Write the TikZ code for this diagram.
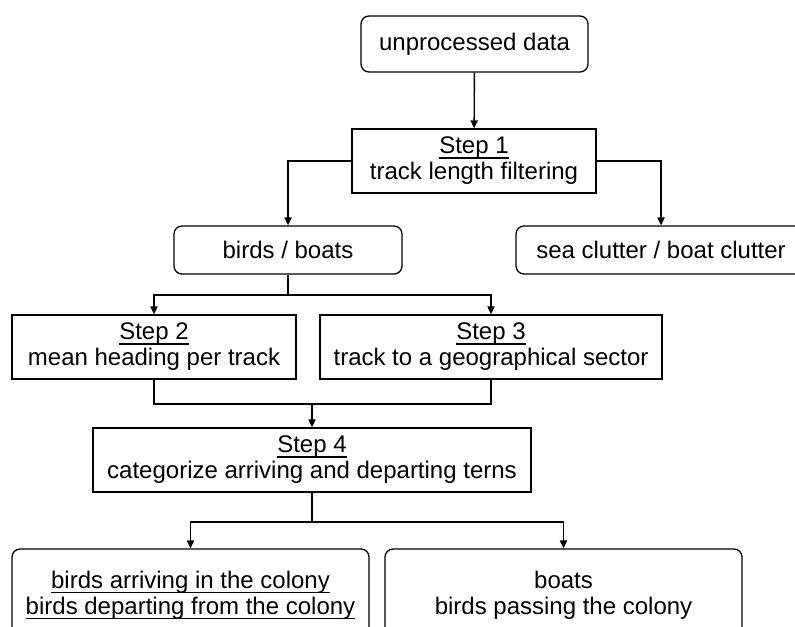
\documentclass[tikz,border=0pt]{standalone}
\usepackage{fontspec}
\setmainfont{Liberation Sans}
\usepackage{tikz}
\usetikzlibrary{arrows.meta,positioning}
\definecolor{inkblack}{HTML}{000000}
\newlength{\ulwidth}
\newcommand{\ul}[1]{\settowidth{\ulwidth}{#1}\rlap{\rule[-2.4pt]{\ulwidth}{0.7pt}}#1}

\begin{document}
\begin{tikzpicture}[
  x=0.5pt, y=-0.5pt,
  every node/.style={font=\fontsize{12}{13}\selectfont, align=center},
  box/.style={draw=inkblack, line width=0.65pt, inner sep=2pt},
  rbox/.style={box, rounded corners=4pt},
  stepbox/.style={box, minimum height=32pt},
  arr/.style={-{Triangle[length=4pt, width=3.6pt]}, line width=0.7pt, color=inkblack},
  ln/.style={line width=0.7pt, color=inkblack},
]
  \useasboundingbox (0,0) rectangle (795,626);

  \node[rbox, minimum width=113.5pt, minimum height=28pt] (raw) at (474.5,44) {unprocessed data};
  \node[stepbox, minimum width=122pt] (step1) at (474,161) {\ul{Step 1}\\track length filtering};
  \node[rbox, minimum width=114pt, minimum height=24pt] (birds) at (288,250) {birds / boats};
  \node[rbox, minimum width=145pt, minimum height=24pt] (clutter) at (661,250) {sea clutter / boat clutter};
  \node[stepbox, minimum width=142pt] (step2) at (154,347) {\ul{Step 2}\\mean heading per track};
  \node[stepbox, minimum width=171pt] (step3) at (491,347) {\ul{Step 3}\\track to a geographical sector};
  \node[stepbox, minimum width=219pt] (step4) at (312,460) {\ul{Step 4}\\categorize arriving and departing terns};
  \node[rbox, minimum width=178.5pt, minimum height=46pt] (colony) at (190.5,595)
    {\ul{birds arriving in the colony}\\\ul{birds departing from the colony}};
  \node[rbox, minimum width=178.5pt, minimum height=46pt] (other) at (563.5,595)
    {boats\\birds passing the colony};

  \coordinate (fork1) at (288,295);
  \coordinate (merge) at (312,404);
  \coordinate (fork2) at (312,522);

  \draw[arr] (raw) -- (step1);
  \draw[arr] (step1.west) -| (birds.north);
  \draw[arr] (step1.east) -| (clutter.north);
  \draw[ln] (birds.south) -- (fork1);
  \draw[arr] (fork1) -| (step2.north);
  \draw[arr] (fork1) -| (step3.north);
  \draw[ln] (step2.south) |- (merge) -| (step3.south);
  \draw[arr] (merge) -- (step4.north);
  \draw[ln] (step4.south) -- (fork2);
  \draw[arr] (fork2) -| (colony.north);
  \draw[arr] (fork2) -| (other.north);
\end{tikzpicture}
\end{document}
